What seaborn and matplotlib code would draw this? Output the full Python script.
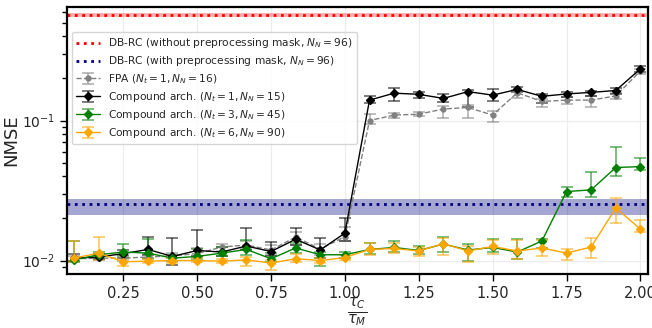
import numpy as np
import pandas as pd
import matplotlib
matplotlib.use("Agg")
import matplotlib.pyplot as plt
import seaborn as sns

# -------------------------------------------------------------------
# Data (x = tau_C / tau_M = k/12, k = 1..24)
# -------------------------------------------------------------------
ratio = [1/12, 2/12, 3/12, 4/12, 5/12, 6/12, 7/12, 8/12, 9/12, 10/12, 11/12, 12/12,
         13/12, 14/12, 15/12, 16/12, 17/12, 18/12, 19/12, 20/12, 21/12, 22/12, 23/12, 24/12]

fpa_mean = [0.0103, 0.0104, 0.0104, 0.0106, 0.0108, 0.0112, 0.0125, 0.0129, 0.0119, 0.0147, 0.0121, 0.0148,
            0.100, 0.1095, 0.111, 0.121, 0.124, 0.1095, 0.158, 0.137, 0.140, 0.140, 0.150, 0.226]
fpa_lo = [0.0099, 0.0101, 0.0100, 0.0102, 0.0104, 0.0106, 0.0117, 0.0120, 0.0110, 0.0130, 0.0110, 0.0137,
          0.094, 0.104, 0.107, 0.104, 0.104, 0.098, 0.144, 0.124, 0.132, 0.126, 0.143, 0.216]
fpa_hi = [0.0108, 0.0110, 0.0109, 0.0111, 0.0113, 0.0122, 0.0131, 0.0138, 0.0129, 0.0160, 0.0131, 0.0175,
          0.111, 0.114, 0.115, 0.128, 0.130, 0.118, 0.165, 0.143, 0.148, 0.149, 0.158, 0.235]

c1_mean = [0.0104, 0.0106, 0.0112, 0.0120, 0.0107, 0.0118, 0.0115, 0.0127, 0.0116, 0.0142, 0.0119, 0.0157,
           0.140, 0.157, 0.154, 0.144, 0.161, 0.152, 0.167, 0.149, 0.155, 0.159, 0.164, 0.234]
c1_lo = [0.0099, 0.0102, 0.0105, 0.0110, 0.0093, 0.0108, 0.0108, 0.0118, 0.0108, 0.0130, 0.0105, 0.0137,
         0.133, 0.137, 0.146, 0.135, 0.125, 0.137, 0.160, 0.133, 0.147, 0.150, 0.155, 0.224]
c1_hi = [0.0112, 0.0112, 0.0118, 0.0147, 0.0146, 0.0164, 0.0125, 0.0170, 0.0135, 0.0172, 0.0146, 0.0201,
         0.149, 0.170, 0.160, 0.155, 0.166, 0.167, 0.173, 0.155, 0.160, 0.164, 0.170, 0.246]

c3_mean = [0.0101, 0.0110, 0.0115, 0.0113, 0.0104, 0.0107, 0.0113, 0.0120, 0.0103, 0.0123, 0.0110, 0.0110,
           0.0120, 0.0124, 0.0118, 0.0131, 0.0119, 0.0124, 0.0115, 0.0138, 0.0311, 0.0320, 0.0462, 0.0469]
c3_lo = [0.0097, 0.0104, 0.0108, 0.0105, 0.0099, 0.0102, 0.0107, 0.0110, 0.0097, 0.0114, 0.0091, 0.0105,
         0.0111, 0.0115, 0.0111, 0.0115, 0.0100, 0.0116, 0.0102, 0.0122, 0.0286, 0.0286, 0.0404, 0.0444]
c3_hi = [0.0137, 0.0115, 0.0131, 0.0142, 0.0110, 0.0120, 0.0125, 0.0141, 0.0113, 0.0134, 0.0116, 0.0116,
         0.0134, 0.0138, 0.0126, 0.0147, 0.0132, 0.0142, 0.0143, 0.0143, 0.0337, 0.0428, 0.0652, 0.0538]

c6_mean = [0.0104, 0.0113, 0.0098, 0.0099, 0.0100, 0.0100, 0.0099, 0.0101, 0.0096, 0.0103, 0.0100, 0.0105,
           0.0120, 0.0122, 0.0117, 0.0132, 0.0117, 0.0126, 0.0117, 0.0123, 0.0113, 0.0125, 0.0237, 0.0168]
c6_lo = [0.0099, 0.0101, 0.0092, 0.0096, 0.0096, 0.0097, 0.0096, 0.0091, 0.0086, 0.0098, 0.0096, 0.0101,
         0.0110, 0.0114, 0.0108, 0.0110, 0.0097, 0.0112, 0.0103, 0.0108, 0.0101, 0.0104, 0.0185, 0.0161]
c6_hi = [0.0137, 0.0147, 0.0103, 0.0103, 0.0104, 0.0104, 0.0103, 0.0106, 0.0101, 0.0112, 0.0104, 0.0109,
         0.0134, 0.0134, 0.0124, 0.0145, 0.0128, 0.0141, 0.0140, 0.0140, 0.0121, 0.0146, 0.0279, 0.0195]

# DB-RC reference levels (mean, lower, upper)
dbrc_nomask = [0.569, 0.552, 0.584]
dbrc_mask = [0.0253, 0.0210, 0.0275]

# -------------------------------------------------------------------
# Plot
# -------------------------------------------------------------------
sns.set_theme(style="ticks")
plt.rcParams["font.family"] = ["DejaVu Sans"]
plt.rcParams["mathtext.fontset"] = "dejavusans"

fig, ax = plt.subplots(figsize=(6.52, 3.28), dpi=100)
fig.subplots_adjust(left=0.102, right=0.994, bottom=0.165, top=0.979)

ax.set_xlim(0.058, 2.026)

# reference bands
ax.axhspan(dbrc_nomask[1], dbrc_nomask[2], color="red", alpha=0.3, lw=0)
ax.axhline(dbrc_nomask[0], color="red", ls=":", lw=2,
           label=r"DB-RC (without preprocessing mask, $N_N=96$)")
ax.axhspan(dbrc_mask[1], dbrc_mask[2], color="navy", alpha=0.35, lw=0)
ax.axhline(dbrc_mask[0], color="navy", ls=":", lw=2,
           label=r"DB-RC (with preprocessing mask, $N_N=96$)")

series = [
    (fpa_mean, fpa_lo, fpa_hi, "gray", "--", "o", 3.5, r"FPA ($N_t=1, N_N=16$)"),
    (c1_mean, c1_lo, c1_hi, "black", "-", "D", 4, r"Compound arch. ($N_t=1, N_N=15$)"),
    (c3_mean, c3_lo, c3_hi, "green", "-", "D", 4, r"Compound arch. ($N_t=3, N_N=45$)"),
    (c6_mean, c6_lo, c6_hi, "orange", "-", "D", 4.5, r"Compound arch. ($N_t=6, N_N=90$)"),
]

for mean, lo, hi, col, ls, mk, ms, lab in series:
    df = pd.DataFrame({"ratio": ratio, "mean": mean, "lo": lo, "hi": hi})
    yerr = np.vstack([df["mean"] - df["lo"], df["hi"] - df["mean"]])
    ax.errorbar(df["ratio"], df["mean"], yerr=yerr, color=col, ls=ls, lw=1,
                marker=mk, ms=ms, capsize=4, elinewidth=1.2, capthick=1.2,
                ecolor=matplotlib.colors.to_rgba(col, 0.6), label=lab)

ax.set_yscale("log")
ax.set_ylim(0.00803, 0.649)
ax.set_xticks([0.25, 0.50, 0.75, 1.00, 1.25, 1.50, 1.75, 2.00])
ax.set_xticklabels(["0.25", "0.50", "0.75", "1.00", "1.25", "1.50", "1.75", "2.00"])

ax.grid(True, which="major", color="#ececec", lw=0.8)
ax.set_axisbelow(True)
for sp in ax.spines.values():
    sp.set_color("black")
    sp.set_linewidth(1.6)
ax.tick_params(axis="both", which="major", length=5, width=1, color="black")
ax.tick_params(axis="x", which="major", labelsize=10.5)
ax.tick_params(axis="y", which="major", labelsize=10)
ax.tick_params(axis="y", which="minor", length=3.5, width=1, color="black")
ax.tick_params(axis="x", which="minor", bottom=False)

ax.set_ylabel("NMSE", fontsize=13, labelpad=1)
ax.set_xlabel(r"$\frac{\tau_C}{\tau_M}$", fontsize=15, labelpad=-4)

ax.legend(loc="upper left", bbox_to_anchor=(0.009, 0.906), borderaxespad=0,
          fontsize=7.7, frameon=True, framealpha=0.8, edgecolor="#cccccc",
          handlelength=2.2, labelspacing=0.38)

plt.savefig("out.png", dpi=100)
plt.close()
